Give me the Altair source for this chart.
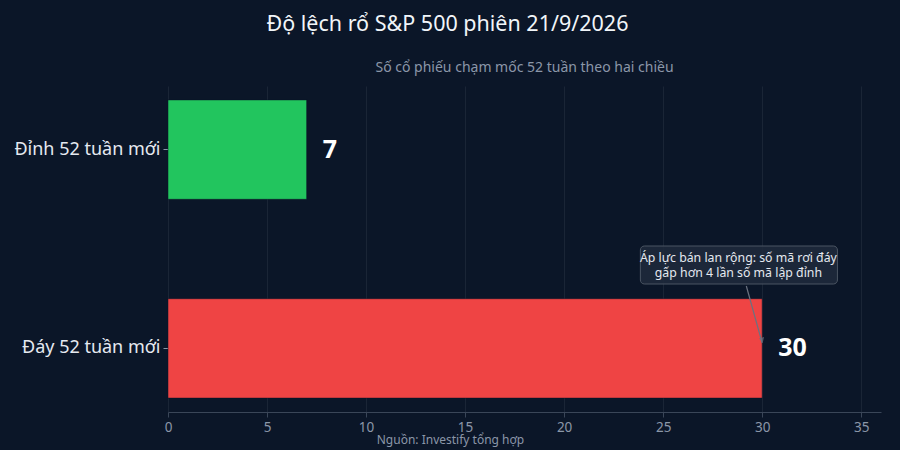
import altair as alt
import pandas as pd

categories = ["Đỉnh 52 tuần mới", "Đáy 52 tuần mới"]
values = [7, 30]
colors = ["#22c55e", "#ef4444"]
x_ticks = [0, 5, 10, 15, 20, 25, 30, 35]

title_text = "Độ lệch rổ S&P 500 phiên 21/9/2026"
subtitle_text = "Số cổ phiếu chạm mốc 52 tuần theo hai chiều"
source_text = "Nguồn: Investify tổng hợp"
ann_lines = ["Áp lực bán lan rộng: số mã rơi đáy", "gấp hơn 4 lần số mã lập đỉnh"]
ann_x = 28.8
ann_box = [23.85, 33.8]
ann_arrow_from = 29.2
ann_target_val = 30

FONT = "Noto Sans"
BG = "#0b1628"
W, H = 713, 326

df = pd.DataFrame({"cat": categories, "val": values, "color": colors})

xscale = alt.Scale(domain=[0, 36], nice=False)
yscale = alt.Scale(domain=categories, paddingInner=0.5, paddingOuter=0.07)

bars = alt.Chart(df).mark_bar(stroke="#0b1628", strokeWidth=0.5).encode(
    x=alt.X("val:Q", scale=xscale,
            axis=alt.Axis(values=x_ticks, title=source_text, titleX=282, titleAlign="center",
                          titleFontWeight="normal", titleFontSize=12, titleColor="#8b97a8",
                          titlePadding=1, labelFontSize=13.5, labelColor="#8b97a8",
                          labelFlush=False,
                          domainColor="#3a4658", tickColor="#3a4658", gridColor="#1a2536",
                          labelPadding=3)),
    y=alt.Y("cat:N", scale=yscale, sort=categories,
            axis=alt.Axis(title=None, labelFontSize=18, labelColor="#e5e9f0", domain=False,
                          tickColor="#8b97a8", tickSize=5, labelPadding=3, grid=False)),
    color=alt.Color("color:N", scale=None),
)

labels = alt.Chart(df).mark_text(align="left", dx=16, fontSize=25, fontWeight="bold",
                                  color="#ffffff", font=FONT).encode(
    x=alt.X("val:Q", scale=xscale), y=alt.Y("cat:N", scale=yscale, sort=categories),
    text="val:Q")

sub = alt.Chart(pd.DataFrame({"t": [subtitle_text]})).mark_text(
    fontSize=14, color="#8b97a8", font=FONT).encode(
    x=alt.value(W / 2), y=alt.value(-18), text="t:N")

box = alt.Chart(pd.DataFrame({"a": [ann_box[0]], "b": [ann_box[1]]})).mark_rect(
    cornerRadius=4, fill="#1e293b", fillOpacity=0.92, stroke="#4b5563", strokeWidth=1).encode(
    x=alt.X("a:Q", scale=xscale), x2="b:Q", y=alt.value(160), y2=alt.value(198))

ann_text = alt.Chart(pd.DataFrame({"x": [ann_x], "t": [ann_lines]})).mark_text(
    fontSize=12.3, color="#e5e9f0", font=FONT, lineHeight=15, baseline="middle").encode(
    x=alt.X("x:Q", scale=xscale), y=alt.value(172), text="t")

arrow = alt.Chart(pd.DataFrame({"a": [ann_arrow_from], "b": [ann_target_val]})).mark_rule(
    color="#6b7280", strokeWidth=1.2).encode(
    x=alt.X("a:Q", scale=xscale), x2="b:Q", y=alt.value(200), y2=alt.value(257))

head = alt.Chart(pd.DataFrame({"b": [ann_target_val]})).mark_point(
    shape="triangle-down", filled=True, color="#6b7280", size=30, angle=344).encode(
    x=alt.X("b:Q", scale=xscale), y=alt.value(254))

chart = alt.layer(bars, labels, sub, box, ann_text, arrow, head).properties(
    width=W, height=H,
    background=BG,
    title=alt.TitleParams(title_text, anchor="middle", frame="bounds", fontSize=21.5,
                          fontWeight="normal", color="#f1f5f9", font=FONT, offset=26),
).configure(font=FONT).configure_view(stroke=None).configure_axis(
    labelFont=FONT, titleFont=FONT)


class _BodyBg:
    def render(self, **kw):
        from altair.utils.html import HTML_TEMPLATE
        html = HTML_TEMPLATE.render(**kw)
        return html.replace("<style>", "<style>\n    body { background: %s; }" % BG, 1)


try:
    chart.save("out.html", embed_options={"renderer": "svg", "actions": False},
               template=_BodyBg())
except Exception:
    chart.save("out.html", embed_options={"renderer": "svg", "actions": False})
